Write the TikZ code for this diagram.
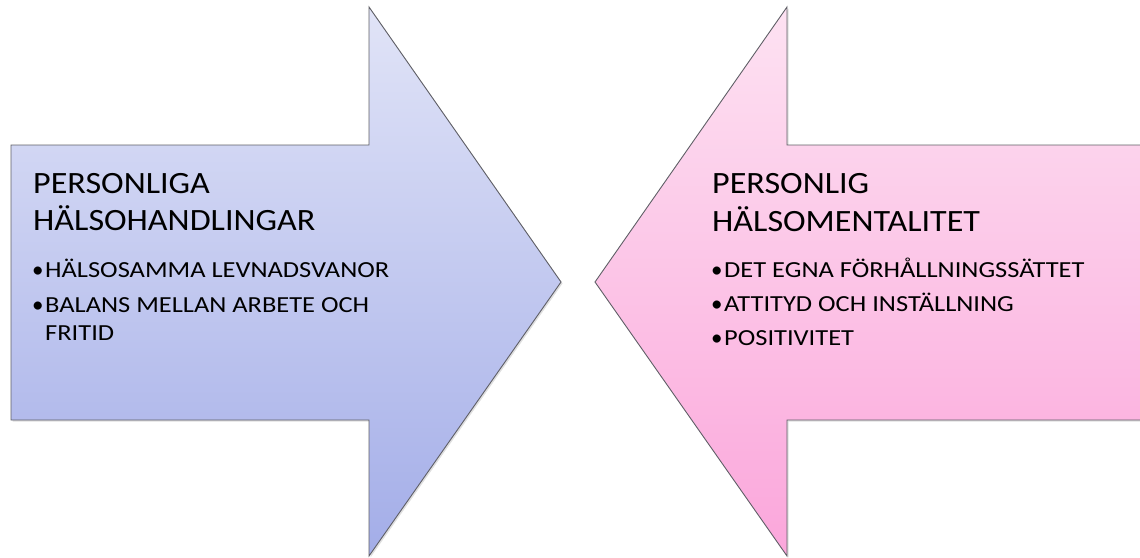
\documentclass[tikz,border=0pt]{standalone}
\usepackage{fontspec}
\setmainfont{Carlito}
\newfontfamily\titlefont[FakeStretch=1.10]{Carlito}
\newfontfamily\itemfont[FakeStretch=1.15]{Carlito}
\usetikzlibrary{shadows}
\definecolor{bordergray}{HTML}{5F5F66}
\definecolor{blueTop}{HTML}{E1E4F7}
\definecolor{blueBot}{HTML}{A3ADE8}
\definecolor{pinkTop}{HTML}{FDE2F2}
\definecolor{pinkBot}{HTML}{FBA6DB}
\tikzset{
  arrowshape/.style={draw=bordergray, line width=0.9pt, line join=miter,
    drop shadow={shadow xshift=1.5pt, shadow yshift=-1.5pt, opacity=0.25}},
  titletext/.style={anchor=base west, inner sep=0pt, font=\titlefont\fontsize{31}{37}\selectfont},
  itemtext/.style={anchor=base west, inner sep=0pt, font=\itemfont\fontsize{23}{27}\selectfont},
  bullettext/.style={anchor=base west, inner sep=0pt, font=\fontsize{23}{27}\selectfont},
}
\begin{document}
\begin{tikzpicture}[x=1pt, y=-1pt]
\useasboundingbox (0,0) rectangle (1140,557);
% left arrow
\path[arrowshape, top color=blueTop, bottom color=blueBot]
  (11,145) -- (369,145) -- (369,7) -- (561,282) -- (369,556) -- (369,420) -- (11,420) -- cycle;
% right arrow
\path[arrowshape, top color=pinkTop, bottom color=pinkBot]
  (1142,145) -- (787,145) -- (787,7) -- (595,282) -- (787,556) -- (787,420) -- (1142,420) -- cycle;
% left text
\node[titletext] (lt1) at (33,193) {PERSONLIGA};
\node[titletext] (lt2) at (33,230) {HÄLSOHANDLINGAR};
\node[bullettext] (lb1) at (32,277) {•};
\node[itemtext] (li1) at (45,277) {HÄLSOSAMMA LEVNADSVANOR};
\node[bullettext] (lb2) at (32,312) {•};
\node[itemtext] (li2) at (45,312) {BALANS MELLAN ARBETE OCH};
\node[itemtext] (li3) at (45,340) {FRITID};
% right text
\node[titletext] (rt1) at (712,193) {PERSONLIG};
\node[titletext] (rt2) at (712,231) {HÄLSOMENTALITET};
\node[bullettext] (rb1) at (711,277) {•};
\node[itemtext] (ri1) at (724,277) {DET EGNA FÖRHÅLLNINGSSÄTTET};
\node[bullettext] (rb2) at (711,311) {•};
\node[itemtext] (ri2) at (724,311) {ATTITYD OCH INSTÄLLNING};
\node[bullettext] (rb3) at (711,345) {•};
\node[itemtext] (ri3) at (724,345) {POSITIVITET};
\end{tikzpicture}
\end{document}
